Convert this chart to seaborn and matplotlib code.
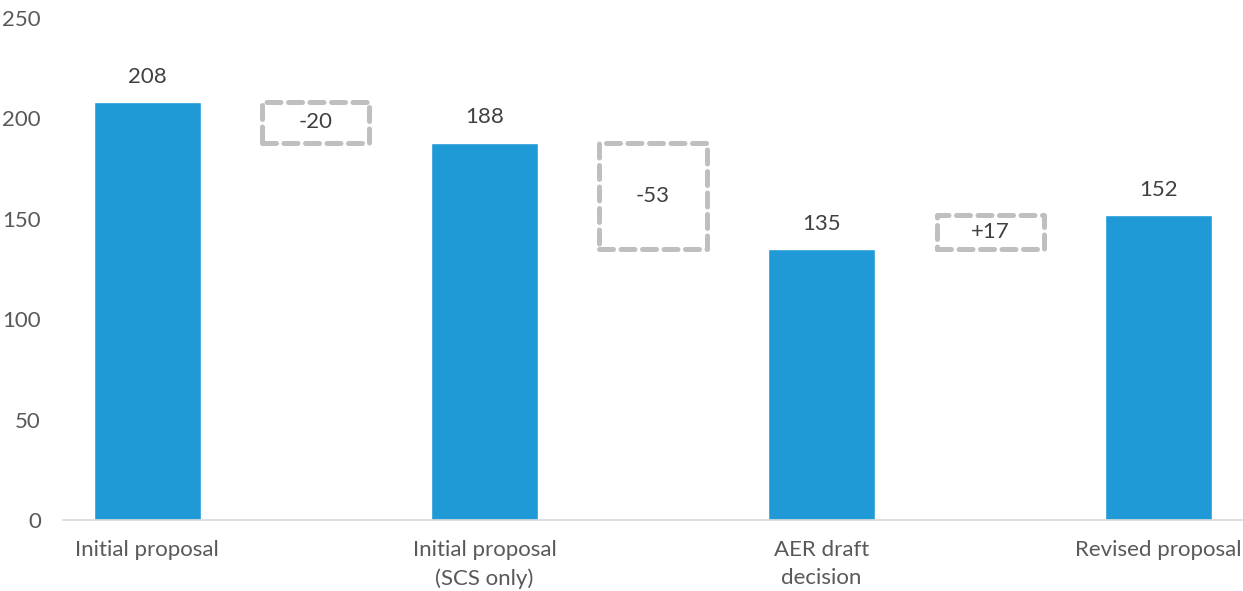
import matplotlib
matplotlib.use("Agg")
import matplotlib.pyplot as plt
import seaborn as sns
import pandas as pd
import numpy as np

categories = ["Initial proposal", "step1", "Initial proposal\n(SCS only)", "step2",
              "AER draft\ndecision", "step3", "Revised proposal"]
tick_labels = ["Initial proposal", "", "Initial proposal\n(SCS only)", "",
               "AER draft\ndecision", "", "Revised proposal"]
totals = [208, np.nan, 188, np.nan, 135, np.nan, 152]
steps = [np.nan, -20, np.nan, -53, np.nan, 17, np.nan]
step_labels = ["", "-20", "", "-53", "", "+17", ""]

sns.set_theme(style="white")
plt.rcParams['font.family'] = ['Lato', 'DejaVu Sans']
FS = 16

fig = plt.figure(figsize=(12.43, 5.91), dpi=100)
ax = fig.add_axes([0.0507, 0.12, 0.9493, 0.8495])

df = pd.DataFrame({"cat": categories, "val": totals})
sns.barplot(data=df, x="cat", y="val", order=categories, color="#1F9AD6",
            saturation=1, width=0.635, ax=ax)

running = None
for i, (t, s) in enumerate(zip(totals, steps)):
    if not np.isnan(t):
        running = t
        ax.text(i, t + 7.5, f"{int(t)}", ha="center", va="bottom",
                fontsize=FS, color="#404040")
    else:
        lo = min(running, running + s)
        ax.bar(i, abs(s), bottom=lo, width=0.635, fill=False,
               edgecolor="#BFBFBF", linewidth=3.6, linestyle=(0, (2.8, 1.5)),
               joinstyle="round", capstyle="round")
        ax.text(i, lo + abs(s) / 2, step_labels[i], ha="center", va="center",
                fontsize=FS, color="#404040")
        running = running + s

ax.set_ylim(0, 250)
ax.set_xlim(-0.5, 6.5)
ax.set_yticks([0, 50, 100, 150, 200, 250])
ax.set_xticks(range(len(categories)))
ax.set_xticklabels(tick_labels, linespacing=1.55)
ax.tick_params(axis="both", length=0, labelsize=FS, colors="#595959")
ax.tick_params(axis="y", pad=16)
ax.tick_params(axis="x", pad=14)
ax.set_xlabel("")
ax.set_ylabel("")
for side in ["top", "right", "left"]:
    ax.spines[side].set_visible(False)
ax.spines["bottom"].set_color("#D9D9D9")
ax.spines["bottom"].set_linewidth(1.2)

fig.savefig("out.png", dpi=100)
